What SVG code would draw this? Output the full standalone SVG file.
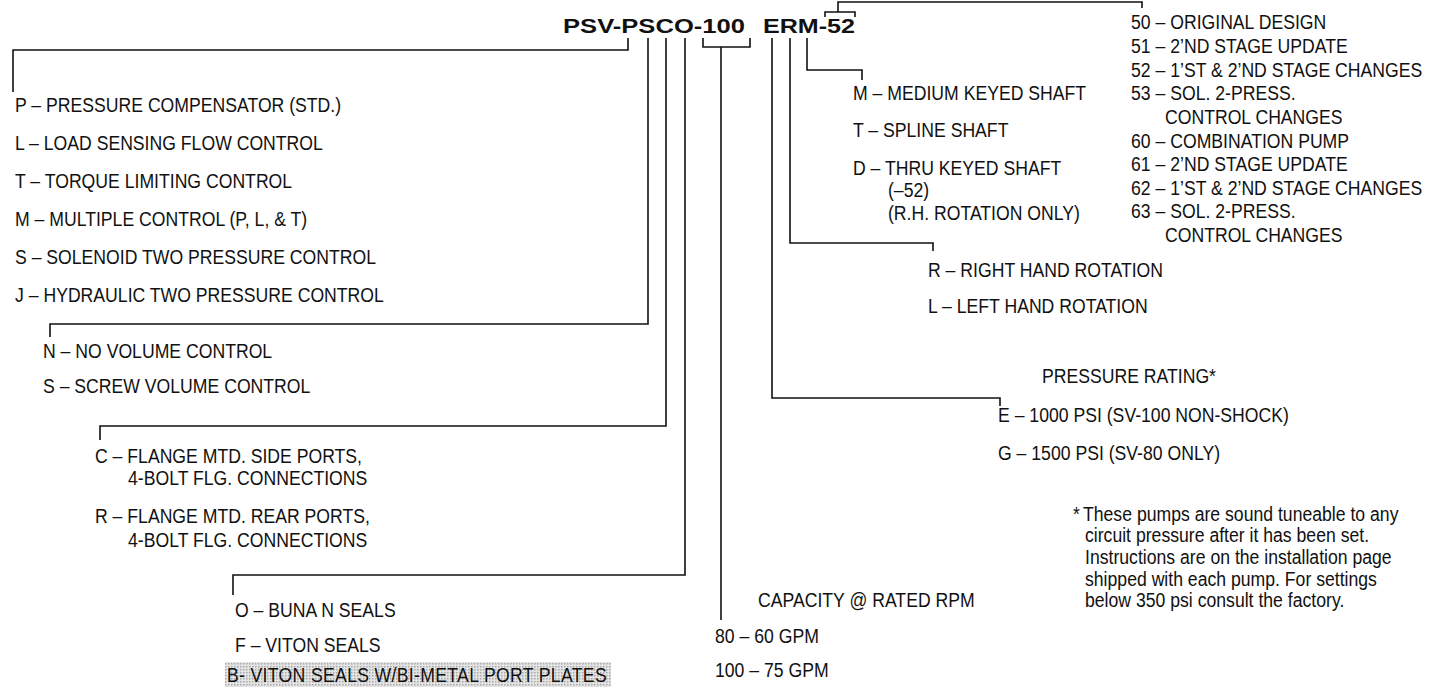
<svg xmlns="http://www.w3.org/2000/svg" width="1453" height="688" viewBox="0 0 1453 688">
<style>
  text { font-family: "Liberation Sans", Arial, sans-serif; font-size: 21px; fill: #111; }
  .title { font-weight: bold; }
  .conn path { fill: none; stroke: #111; stroke-width: 1.6; }
</style>
<defs>
  <pattern id="dots" width="3" height="3" patternUnits="userSpaceOnUse">
    <rect width="3" height="3" fill="#e4e4e4"/>
    <rect width="1.5" height="1.5" fill="#a8a8a8"/>
  </pattern>
</defs>
<rect width="1453" height="688" fill="#fff"/>

<g id="title">
  <text class="title" x="563" y="33" textLength="182" lengthAdjust="spacingAndGlyphs">PSV-PSCO-100</text>
  <text class="title" x="763" y="33" textLength="92" lengthAdjust="spacingAndGlyphs">ERM-52</text>
</g>

<g class="conn" id="connectors">
  <path d="M13,92 V50 H628 V38"/>
  <path d="M50,337 V324 H648 V38"/>
  <path d="M100,440 V426 H666 V38"/>
  <path d="M233,595 V575 H685 V38"/>
  <path d="M703,38 V47 H750 V38 M721,47 V620"/>
  <path d="M772,38 V398 H1000 V406"/>
  <path d="M790,38 V243 H933 V251"/>
  <path d="M807,38 V70 H862 V80"/>
  <path d="M825,17 V12 H855 V17 M838,12 V2 H1142 V8"/>
</g>

<g id="controls">
  <text transform="translate(15 112) scale(0.84 1)">P – PRESSURE COMPENSATOR (STD.)</text>
  <text transform="translate(15 150) scale(0.84 1)">L – LOAD SENSING FLOW CONTROL</text>
  <text transform="translate(15 188) scale(0.84 1)">T – TORQUE LIMITING CONTROL</text>
  <text transform="translate(15 226) scale(0.84 1)">M – MULTIPLE CONTROL (P, L, &amp; T)</text>
  <text transform="translate(15 264) scale(0.84 1)">S – SOLENOID TWO PRESSURE CONTROL</text>
  <text transform="translate(15 302) scale(0.84 1)">J – HYDRAULIC TWO PRESSURE CONTROL</text>
</g>

<g id="volume">
  <text transform="translate(43 358) scale(0.84 1)">N – NO VOLUME CONTROL</text>
  <text transform="translate(43 393) scale(0.84 1)">S – SCREW VOLUME CONTROL</text>
</g>

<g id="ports">
  <text transform="translate(95 463) scale(0.84 1)">C – FLANGE MTD. SIDE PORTS,</text>
  <text transform="translate(128 485) scale(0.84 1)">4-BOLT FLG. CONNECTIONS</text>
  <text transform="translate(95 523) scale(0.84 1)">R – FLANGE MTD. REAR PORTS,</text>
  <text transform="translate(128 547) scale(0.84 1)">4-BOLT FLG. CONNECTIONS</text>
</g>

<g id="seals">
  <text transform="translate(235 617) scale(0.84 1)">O – BUNA N SEALS</text>
  <text transform="translate(235 652) scale(0.84 1)">F – VITON SEALS</text>
  <rect x="225" y="662" width="386" height="25" fill="url(#dots)"/>
  <text transform="translate(227 682) scale(0.84 1)" textLength="452" lengthAdjust="spacing">B- VITON SEALS W/BI-METAL PORT PLATES</text>
</g>

<g id="capacity">
  <text transform="translate(758 607) scale(0.84 1)">CAPACITY @ RATED RPM</text>
  <text transform="translate(715 643) scale(0.84 1)">80 – 60 GPM</text>
  <text transform="translate(715 677) scale(0.84 1)">100 – 75 GPM</text>
</g>

<g id="shaft">
  <text transform="translate(853 100) scale(0.84 1)">M – MEDIUM KEYED SHAFT</text>
  <text transform="translate(853 137) scale(0.84 1)">T – SPLINE SHAFT</text>
  <text transform="translate(853 175) scale(0.84 1)">D – THRU KEYED SHAFT</text>
  <text transform="translate(888 197) scale(0.84 1)">(–52)</text>
  <text transform="translate(888 220) scale(0.84 1)">(R.H. ROTATION ONLY)</text>
</g>

<g id="rotation">
  <text transform="translate(928 277) scale(0.84 1)">R – RIGHT HAND ROTATION</text>
  <text transform="translate(928 313) scale(0.84 1)">L – LEFT HAND ROTATION</text>
</g>

<g id="pressure">
  <text transform="translate(1042 383) scale(0.84 1)">PRESSURE RATING*</text>
  <text transform="translate(998 422) scale(0.84 1)">E – 1000 PSI (SV-100 NON-SHOCK)</text>
  <text transform="translate(998 460) scale(0.84 1)">G – 1500 PSI (SV-80 ONLY)</text>
</g>

<g id="design">
  <text transform="translate(1131 29) scale(0.84 1)">50 – ORIGINAL DESIGN</text>
  <text transform="translate(1131 53) scale(0.84 1)">51 – 2’ND STAGE UPDATE</text>
  <text transform="translate(1131 77) scale(0.84 1)">52 – 1’ST &amp; 2’ND STAGE CHANGES</text>
  <text transform="translate(1131 100) scale(0.84 1)">53 – SOL. 2-PRESS.</text>
  <text transform="translate(1165 124) scale(0.84 1)">CONTROL CHANGES</text>
  <text transform="translate(1131 148) scale(0.84 1)">60 – COMBINATION PUMP</text>
  <text transform="translate(1131 171) scale(0.84 1)">61 – 2’ND STAGE UPDATE</text>
  <text transform="translate(1131 195) scale(0.84 1)">62 – 1’ST &amp; 2’ND STAGE CHANGES</text>
  <text transform="translate(1131 218) scale(0.84 1)">63 – SOL. 2-PRESS.</text>
  <text transform="translate(1165 242) scale(0.84 1)">CONTROL CHANGES</text>
</g>

<g id="footnote">
  <text transform="translate(1073 521) scale(0.84 1)">*</text>
  <text transform="translate(1083 521) scale(0.84 1)">These pumps are sound tuneable to any</text>
  <text transform="translate(1085 542) scale(0.84 1)">circuit pressure after it has been set.</text>
  <text transform="translate(1085 564) scale(0.84 1)">Instructions are on the installation page</text>
  <text transform="translate(1085 586) scale(0.84 1)">shipped with each pump. For settings</text>
  <text transform="translate(1085 607) scale(0.84 1)">below 350 psi consult the factory.</text>
</g>
</svg>
